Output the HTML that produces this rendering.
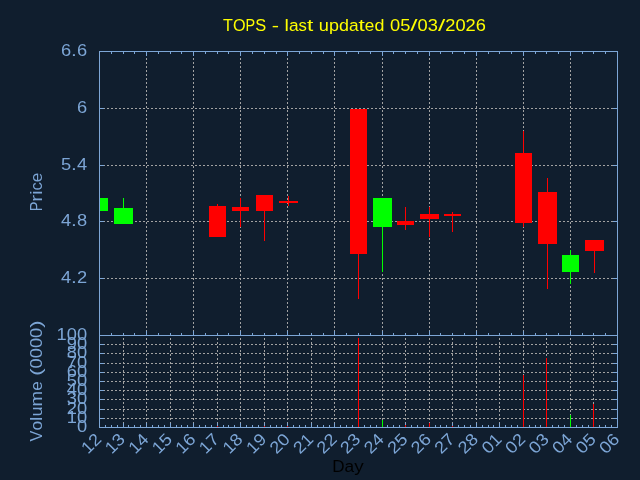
<!DOCTYPE html>
<html><head><meta charset="utf-8"><title>TOPS</title>
<style>
html,body{margin:0;padding:0;background:#101e2e;overflow:hidden}
svg{display:block}
text{font-family:"Liberation Sans",sans-serif}
.tx{opacity:0.999}
</style></head>
<body>
<svg width="640" height="480" viewBox="0 0 640 480">
<defs><clipPath id="cp"><rect x="100" y="52" width="517" height="283"/></clipPath></defs>
<rect x="0" y="0" width="640" height="480" fill="#101e2e"/>
<g shape-rendering="crispEdges">
<line x1="99" y1="108.5" x2="617" y2="108.5" stroke="#a2a2a2" stroke-width="1" stroke-dasharray="2 2"/>
<line x1="99" y1="165.5" x2="617" y2="165.5" stroke="#a2a2a2" stroke-width="1" stroke-dasharray="2 2"/>
<line x1="99" y1="221.5" x2="617" y2="221.5" stroke="#a2a2a2" stroke-width="1" stroke-dasharray="2 2"/>
<line x1="99" y1="278.5" x2="617" y2="278.5" stroke="#a2a2a2" stroke-width="1" stroke-dasharray="2 2"/>
<line x1="146.5" y1="336" x2="146.5" y2="51" stroke="#a2a2a2" stroke-width="1" stroke-dasharray="2 2"/>
<line x1="193.5" y1="336" x2="193.5" y2="51" stroke="#a2a2a2" stroke-width="1" stroke-dasharray="2 2"/>
<line x1="240.5" y1="336" x2="240.5" y2="51" stroke="#a2a2a2" stroke-width="1" stroke-dasharray="2 2"/>
<line x1="287.5" y1="336" x2="287.5" y2="51" stroke="#a2a2a2" stroke-width="1" stroke-dasharray="2 2"/>
<line x1="334.5" y1="336" x2="334.5" y2="51" stroke="#a2a2a2" stroke-width="1" stroke-dasharray="2 2"/>
<line x1="382.5" y1="336" x2="382.5" y2="51" stroke="#a2a2a2" stroke-width="1" stroke-dasharray="2 2"/>
<line x1="429.5" y1="336" x2="429.5" y2="51" stroke="#a2a2a2" stroke-width="1" stroke-dasharray="2 2"/>
<line x1="476.5" y1="336" x2="476.5" y2="51" stroke="#a2a2a2" stroke-width="1" stroke-dasharray="2 2"/>
<line x1="523.5" y1="336" x2="523.5" y2="51" stroke="#a2a2a2" stroke-width="1" stroke-dasharray="2 2"/>
<line x1="570.5" y1="336" x2="570.5" y2="51" stroke="#a2a2a2" stroke-width="1" stroke-dasharray="2 2"/>
<line x1="99" y1="344.5" x2="617" y2="344.5" stroke="#a2a2a2" stroke-width="1" stroke-dasharray="2 2"/>
<line x1="99" y1="353.5" x2="617" y2="353.5" stroke="#a2a2a2" stroke-width="1" stroke-dasharray="2 2"/>
<line x1="99" y1="363.5" x2="617" y2="363.5" stroke="#a2a2a2" stroke-width="1" stroke-dasharray="2 2"/>
<line x1="99" y1="372.5" x2="617" y2="372.5" stroke="#a2a2a2" stroke-width="1" stroke-dasharray="2 2"/>
<line x1="99" y1="381.5" x2="617" y2="381.5" stroke="#a2a2a2" stroke-width="1" stroke-dasharray="2 2"/>
<line x1="99" y1="390.5" x2="617" y2="390.5" stroke="#a2a2a2" stroke-width="1" stroke-dasharray="2 2"/>
<line x1="99" y1="399.5" x2="617" y2="399.5" stroke="#a2a2a2" stroke-width="1" stroke-dasharray="2 2"/>
<line x1="99" y1="409.5" x2="617" y2="409.5" stroke="#a2a2a2" stroke-width="1" stroke-dasharray="2 2"/>
<line x1="99" y1="418.5" x2="617" y2="418.5" stroke="#a2a2a2" stroke-width="1" stroke-dasharray="2 2"/>
<line x1="123.5" y1="428" x2="123.5" y2="335" stroke="#a2a2a2" stroke-width="1" stroke-dasharray="2 2"/>
<line x1="146.5" y1="428" x2="146.5" y2="335" stroke="#a2a2a2" stroke-width="1" stroke-dasharray="2 2"/>
<line x1="170.5" y1="428" x2="170.5" y2="335" stroke="#a2a2a2" stroke-width="1" stroke-dasharray="2 2"/>
<line x1="193.5" y1="428" x2="193.5" y2="335" stroke="#a2a2a2" stroke-width="1" stroke-dasharray="2 2"/>
<line x1="217.5" y1="428" x2="217.5" y2="335" stroke="#a2a2a2" stroke-width="1" stroke-dasharray="2 2"/>
<line x1="240.5" y1="428" x2="240.5" y2="335" stroke="#a2a2a2" stroke-width="1" stroke-dasharray="2 2"/>
<line x1="264.5" y1="428" x2="264.5" y2="335" stroke="#a2a2a2" stroke-width="1" stroke-dasharray="2 2"/>
<line x1="287.5" y1="428" x2="287.5" y2="335" stroke="#a2a2a2" stroke-width="1" stroke-dasharray="2 2"/>
<line x1="311.5" y1="428" x2="311.5" y2="335" stroke="#a2a2a2" stroke-width="1" stroke-dasharray="2 2"/>
<line x1="334.5" y1="428" x2="334.5" y2="335" stroke="#a2a2a2" stroke-width="1" stroke-dasharray="2 2"/>
<line x1="358.5" y1="428" x2="358.5" y2="335" stroke="#a2a2a2" stroke-width="1" stroke-dasharray="2 2"/>
<line x1="382.5" y1="428" x2="382.5" y2="335" stroke="#a2a2a2" stroke-width="1" stroke-dasharray="2 2"/>
<line x1="405.5" y1="428" x2="405.5" y2="335" stroke="#a2a2a2" stroke-width="1" stroke-dasharray="2 2"/>
<line x1="429.5" y1="428" x2="429.5" y2="335" stroke="#a2a2a2" stroke-width="1" stroke-dasharray="2 2"/>
<line x1="452.5" y1="428" x2="452.5" y2="335" stroke="#a2a2a2" stroke-width="1" stroke-dasharray="2 2"/>
<line x1="476.5" y1="428" x2="476.5" y2="335" stroke="#a2a2a2" stroke-width="1" stroke-dasharray="2 2"/>
<line x1="499.5" y1="428" x2="499.5" y2="335" stroke="#a2a2a2" stroke-width="1" stroke-dasharray="2 2"/>
<line x1="523.5" y1="428" x2="523.5" y2="335" stroke="#a2a2a2" stroke-width="1" stroke-dasharray="2 2"/>
<line x1="546.5" y1="428" x2="546.5" y2="335" stroke="#a2a2a2" stroke-width="1" stroke-dasharray="2 2"/>
<line x1="570.5" y1="428" x2="570.5" y2="335" stroke="#a2a2a2" stroke-width="1" stroke-dasharray="2 2"/>
<line x1="593.5" y1="428" x2="593.5" y2="335" stroke="#a2a2a2" stroke-width="1" stroke-dasharray="2 2"/>
<g clip-path="url(#cp)">
<rect x="99" y="198" width="1" height="13" fill="#00ff00"/>
<rect x="91" y="198" width="17" height="13" fill="#00ff00"/>
<rect x="123" y="198" width="1" height="26" fill="#00ff00"/>
<rect x="114" y="208" width="19" height="16" fill="#00ff00"/>
<rect x="217" y="204" width="1" height="33" fill="#ff0000"/>
<rect x="209" y="206" width="17" height="31" fill="#ff0000"/>
<rect x="240" y="198" width="1" height="29" fill="#ff0000"/>
<rect x="232" y="207" width="17" height="4" fill="#ff0000"/>
<rect x="264" y="195" width="1" height="46" fill="#ff0000"/>
<rect x="256" y="195" width="17" height="16" fill="#ff0000"/>
<rect x="288" y="196" width="1" height="10" fill="#ff0000"/>
<rect x="279" y="201" width="19" height="2" fill="#ff0000"/>
<rect x="358" y="109" width="1" height="190" fill="#ff0000"/>
<rect x="350" y="109" width="17" height="145" fill="#ff0000"/>
<rect x="382" y="198" width="1" height="74" fill="#00ff00"/>
<rect x="373" y="198" width="19" height="29" fill="#00ff00"/>
<rect x="405" y="207" width="1" height="23" fill="#ff0000"/>
<rect x="397" y="221" width="17" height="4" fill="#ff0000"/>
<rect x="429" y="207" width="1" height="30" fill="#ff0000"/>
<rect x="420" y="214" width="19" height="5" fill="#ff0000"/>
<rect x="452" y="212" width="1" height="20" fill="#ff0000"/>
<rect x="444" y="214" width="17" height="2" fill="#ff0000"/>
<rect x="523" y="131" width="1" height="96" fill="#ff0000"/>
<rect x="515" y="153" width="17" height="70" fill="#ff0000"/>
<rect x="547" y="178" width="1" height="111" fill="#ff0000"/>
<rect x="538" y="192" width="19" height="52" fill="#ff0000"/>
<rect x="570" y="250" width="1" height="34" fill="#00ff00"/>
<rect x="562" y="255" width="17" height="17" fill="#00ff00"/>
<rect x="594" y="240" width="1" height="33" fill="#ff0000"/>
<rect x="585" y="240" width="19" height="11" fill="#ff0000"/>
</g>
<rect x="111" y="52" width="1" height="2" fill="#7da6d6"/>
<rect x="111" y="333" width="1" height="2" fill="#7da6d6"/>
<rect x="123" y="52" width="1" height="2" fill="#7da6d6"/>
<rect x="123" y="333" width="1" height="2" fill="#7da6d6"/>
<rect x="134" y="52" width="1" height="2" fill="#7da6d6"/>
<rect x="134" y="333" width="1" height="2" fill="#7da6d6"/>
<rect x="146" y="52" width="1" height="4" fill="#7da6d6"/>
<rect x="146" y="331" width="1" height="4" fill="#7da6d6"/>
<rect x="158" y="52" width="1" height="2" fill="#7da6d6"/>
<rect x="158" y="333" width="1" height="2" fill="#7da6d6"/>
<rect x="170" y="52" width="1" height="2" fill="#7da6d6"/>
<rect x="170" y="333" width="1" height="2" fill="#7da6d6"/>
<rect x="181" y="52" width="1" height="2" fill="#7da6d6"/>
<rect x="181" y="333" width="1" height="2" fill="#7da6d6"/>
<rect x="193" y="52" width="1" height="4" fill="#7da6d6"/>
<rect x="193" y="331" width="1" height="4" fill="#7da6d6"/>
<rect x="205" y="52" width="1" height="2" fill="#7da6d6"/>
<rect x="205" y="333" width="1" height="2" fill="#7da6d6"/>
<rect x="217" y="52" width="1" height="2" fill="#7da6d6"/>
<rect x="217" y="333" width="1" height="2" fill="#7da6d6"/>
<rect x="228" y="52" width="1" height="2" fill="#7da6d6"/>
<rect x="228" y="333" width="1" height="2" fill="#7da6d6"/>
<rect x="240" y="52" width="1" height="4" fill="#7da6d6"/>
<rect x="240" y="331" width="1" height="4" fill="#7da6d6"/>
<rect x="252" y="52" width="1" height="2" fill="#7da6d6"/>
<rect x="252" y="333" width="1" height="2" fill="#7da6d6"/>
<rect x="264" y="52" width="1" height="2" fill="#7da6d6"/>
<rect x="264" y="333" width="1" height="2" fill="#7da6d6"/>
<rect x="276" y="52" width="1" height="2" fill="#7da6d6"/>
<rect x="276" y="333" width="1" height="2" fill="#7da6d6"/>
<rect x="287" y="52" width="1" height="4" fill="#7da6d6"/>
<rect x="287" y="331" width="1" height="4" fill="#7da6d6"/>
<rect x="299" y="52" width="1" height="2" fill="#7da6d6"/>
<rect x="299" y="333" width="1" height="2" fill="#7da6d6"/>
<rect x="311" y="52" width="1" height="2" fill="#7da6d6"/>
<rect x="311" y="333" width="1" height="2" fill="#7da6d6"/>
<rect x="323" y="52" width="1" height="2" fill="#7da6d6"/>
<rect x="323" y="333" width="1" height="2" fill="#7da6d6"/>
<rect x="334" y="52" width="1" height="4" fill="#7da6d6"/>
<rect x="334" y="331" width="1" height="4" fill="#7da6d6"/>
<rect x="346" y="52" width="1" height="2" fill="#7da6d6"/>
<rect x="346" y="333" width="1" height="2" fill="#7da6d6"/>
<rect x="358" y="52" width="1" height="2" fill="#7da6d6"/>
<rect x="358" y="333" width="1" height="2" fill="#7da6d6"/>
<rect x="370" y="52" width="1" height="2" fill="#7da6d6"/>
<rect x="370" y="333" width="1" height="2" fill="#7da6d6"/>
<rect x="382" y="52" width="1" height="4" fill="#7da6d6"/>
<rect x="382" y="331" width="1" height="4" fill="#7da6d6"/>
<rect x="393" y="52" width="1" height="2" fill="#7da6d6"/>
<rect x="393" y="333" width="1" height="2" fill="#7da6d6"/>
<rect x="405" y="52" width="1" height="2" fill="#7da6d6"/>
<rect x="405" y="333" width="1" height="2" fill="#7da6d6"/>
<rect x="417" y="52" width="1" height="2" fill="#7da6d6"/>
<rect x="417" y="333" width="1" height="2" fill="#7da6d6"/>
<rect x="429" y="52" width="1" height="4" fill="#7da6d6"/>
<rect x="429" y="331" width="1" height="4" fill="#7da6d6"/>
<rect x="440" y="52" width="1" height="2" fill="#7da6d6"/>
<rect x="440" y="333" width="1" height="2" fill="#7da6d6"/>
<rect x="452" y="52" width="1" height="2" fill="#7da6d6"/>
<rect x="452" y="333" width="1" height="2" fill="#7da6d6"/>
<rect x="464" y="52" width="1" height="2" fill="#7da6d6"/>
<rect x="464" y="333" width="1" height="2" fill="#7da6d6"/>
<rect x="476" y="52" width="1" height="4" fill="#7da6d6"/>
<rect x="476" y="331" width="1" height="4" fill="#7da6d6"/>
<rect x="488" y="52" width="1" height="2" fill="#7da6d6"/>
<rect x="488" y="333" width="1" height="2" fill="#7da6d6"/>
<rect x="499" y="52" width="1" height="2" fill="#7da6d6"/>
<rect x="499" y="333" width="1" height="2" fill="#7da6d6"/>
<rect x="511" y="52" width="1" height="2" fill="#7da6d6"/>
<rect x="511" y="333" width="1" height="2" fill="#7da6d6"/>
<rect x="523" y="52" width="1" height="4" fill="#7da6d6"/>
<rect x="523" y="331" width="1" height="4" fill="#7da6d6"/>
<rect x="535" y="52" width="1" height="2" fill="#7da6d6"/>
<rect x="535" y="333" width="1" height="2" fill="#7da6d6"/>
<rect x="546" y="52" width="1" height="2" fill="#7da6d6"/>
<rect x="546" y="333" width="1" height="2" fill="#7da6d6"/>
<rect x="558" y="52" width="1" height="2" fill="#7da6d6"/>
<rect x="558" y="333" width="1" height="2" fill="#7da6d6"/>
<rect x="570" y="52" width="1" height="4" fill="#7da6d6"/>
<rect x="570" y="331" width="1" height="4" fill="#7da6d6"/>
<rect x="582" y="52" width="1" height="2" fill="#7da6d6"/>
<rect x="582" y="333" width="1" height="2" fill="#7da6d6"/>
<rect x="593" y="52" width="1" height="2" fill="#7da6d6"/>
<rect x="593" y="333" width="1" height="2" fill="#7da6d6"/>
<rect x="605" y="52" width="1" height="2" fill="#7da6d6"/>
<rect x="605" y="333" width="1" height="2" fill="#7da6d6"/>
<rect x="105" y="425" width="1" height="2" fill="#7da6d6"/>
<rect x="111" y="425" width="1" height="2" fill="#7da6d6"/>
<rect x="117" y="425" width="1" height="2" fill="#7da6d6"/>
<rect x="123" y="423" width="1" height="4" fill="#7da6d6"/>
<rect x="128" y="425" width="1" height="2" fill="#7da6d6"/>
<rect x="134" y="425" width="1" height="2" fill="#7da6d6"/>
<rect x="140" y="425" width="1" height="2" fill="#7da6d6"/>
<rect x="146" y="423" width="1" height="4" fill="#7da6d6"/>
<rect x="152" y="425" width="1" height="2" fill="#7da6d6"/>
<rect x="158" y="425" width="1" height="2" fill="#7da6d6"/>
<rect x="164" y="425" width="1" height="2" fill="#7da6d6"/>
<rect x="170" y="423" width="1" height="4" fill="#7da6d6"/>
<rect x="176" y="425" width="1" height="2" fill="#7da6d6"/>
<rect x="181" y="425" width="1" height="2" fill="#7da6d6"/>
<rect x="187" y="425" width="1" height="2" fill="#7da6d6"/>
<rect x="193" y="423" width="1" height="4" fill="#7da6d6"/>
<rect x="199" y="425" width="1" height="2" fill="#7da6d6"/>
<rect x="205" y="425" width="1" height="2" fill="#7da6d6"/>
<rect x="211" y="425" width="1" height="2" fill="#7da6d6"/>
<rect x="217" y="423" width="1" height="4" fill="#7da6d6"/>
<rect x="223" y="425" width="1" height="2" fill="#7da6d6"/>
<rect x="228" y="425" width="1" height="2" fill="#7da6d6"/>
<rect x="234" y="425" width="1" height="2" fill="#7da6d6"/>
<rect x="240" y="423" width="1" height="4" fill="#7da6d6"/>
<rect x="246" y="425" width="1" height="2" fill="#7da6d6"/>
<rect x="252" y="425" width="1" height="2" fill="#7da6d6"/>
<rect x="258" y="425" width="1" height="2" fill="#7da6d6"/>
<rect x="264" y="423" width="1" height="4" fill="#7da6d6"/>
<rect x="270" y="425" width="1" height="2" fill="#7da6d6"/>
<rect x="276" y="425" width="1" height="2" fill="#7da6d6"/>
<rect x="281" y="425" width="1" height="2" fill="#7da6d6"/>
<rect x="287" y="423" width="1" height="4" fill="#7da6d6"/>
<rect x="293" y="425" width="1" height="2" fill="#7da6d6"/>
<rect x="299" y="425" width="1" height="2" fill="#7da6d6"/>
<rect x="305" y="425" width="1" height="2" fill="#7da6d6"/>
<rect x="311" y="423" width="1" height="4" fill="#7da6d6"/>
<rect x="317" y="425" width="1" height="2" fill="#7da6d6"/>
<rect x="323" y="425" width="1" height="2" fill="#7da6d6"/>
<rect x="329" y="425" width="1" height="2" fill="#7da6d6"/>
<rect x="334" y="423" width="1" height="4" fill="#7da6d6"/>
<rect x="340" y="425" width="1" height="2" fill="#7da6d6"/>
<rect x="346" y="425" width="1" height="2" fill="#7da6d6"/>
<rect x="352" y="425" width="1" height="2" fill="#7da6d6"/>
<rect x="358" y="423" width="1" height="4" fill="#7da6d6"/>
<rect x="364" y="425" width="1" height="2" fill="#7da6d6"/>
<rect x="370" y="425" width="1" height="2" fill="#7da6d6"/>
<rect x="376" y="425" width="1" height="2" fill="#7da6d6"/>
<rect x="382" y="423" width="1" height="4" fill="#7da6d6"/>
<rect x="387" y="425" width="1" height="2" fill="#7da6d6"/>
<rect x="393" y="425" width="1" height="2" fill="#7da6d6"/>
<rect x="399" y="425" width="1" height="2" fill="#7da6d6"/>
<rect x="405" y="423" width="1" height="4" fill="#7da6d6"/>
<rect x="411" y="425" width="1" height="2" fill="#7da6d6"/>
<rect x="417" y="425" width="1" height="2" fill="#7da6d6"/>
<rect x="423" y="425" width="1" height="2" fill="#7da6d6"/>
<rect x="429" y="423" width="1" height="4" fill="#7da6d6"/>
<rect x="435" y="425" width="1" height="2" fill="#7da6d6"/>
<rect x="440" y="425" width="1" height="2" fill="#7da6d6"/>
<rect x="446" y="425" width="1" height="2" fill="#7da6d6"/>
<rect x="452" y="423" width="1" height="4" fill="#7da6d6"/>
<rect x="458" y="425" width="1" height="2" fill="#7da6d6"/>
<rect x="464" y="425" width="1" height="2" fill="#7da6d6"/>
<rect x="470" y="425" width="1" height="2" fill="#7da6d6"/>
<rect x="476" y="423" width="1" height="4" fill="#7da6d6"/>
<rect x="482" y="425" width="1" height="2" fill="#7da6d6"/>
<rect x="488" y="425" width="1" height="2" fill="#7da6d6"/>
<rect x="493" y="425" width="1" height="2" fill="#7da6d6"/>
<rect x="499" y="423" width="1" height="4" fill="#7da6d6"/>
<rect x="505" y="425" width="1" height="2" fill="#7da6d6"/>
<rect x="511" y="425" width="1" height="2" fill="#7da6d6"/>
<rect x="517" y="425" width="1" height="2" fill="#7da6d6"/>
<rect x="523" y="423" width="1" height="4" fill="#7da6d6"/>
<rect x="529" y="425" width="1" height="2" fill="#7da6d6"/>
<rect x="535" y="425" width="1" height="2" fill="#7da6d6"/>
<rect x="540" y="425" width="1" height="2" fill="#7da6d6"/>
<rect x="546" y="423" width="1" height="4" fill="#7da6d6"/>
<rect x="552" y="425" width="1" height="2" fill="#7da6d6"/>
<rect x="558" y="425" width="1" height="2" fill="#7da6d6"/>
<rect x="564" y="425" width="1" height="2" fill="#7da6d6"/>
<rect x="570" y="423" width="1" height="4" fill="#7da6d6"/>
<rect x="576" y="425" width="1" height="2" fill="#7da6d6"/>
<rect x="582" y="425" width="1" height="2" fill="#7da6d6"/>
<rect x="588" y="425" width="1" height="2" fill="#7da6d6"/>
<rect x="593" y="423" width="1" height="4" fill="#7da6d6"/>
<rect x="599" y="425" width="1" height="2" fill="#7da6d6"/>
<rect x="605" y="425" width="1" height="2" fill="#7da6d6"/>
<rect x="611" y="425" width="1" height="2" fill="#7da6d6"/>
<rect x="100" y="108" width="4" height="1" fill="#7da6d6"/>
<rect x="613" y="108" width="4" height="1" fill="#7da6d6"/>
<rect x="100" y="165" width="4" height="1" fill="#7da6d6"/>
<rect x="613" y="165" width="4" height="1" fill="#7da6d6"/>
<rect x="100" y="221" width="4" height="1" fill="#7da6d6"/>
<rect x="613" y="221" width="4" height="1" fill="#7da6d6"/>
<rect x="100" y="278" width="4" height="1" fill="#7da6d6"/>
<rect x="613" y="278" width="4" height="1" fill="#7da6d6"/>
<rect x="100" y="344" width="4" height="1" fill="#7da6d6"/>
<rect x="613" y="344" width="4" height="1" fill="#7da6d6"/>
<rect x="100" y="353" width="4" height="1" fill="#7da6d6"/>
<rect x="613" y="353" width="4" height="1" fill="#7da6d6"/>
<rect x="100" y="363" width="4" height="1" fill="#7da6d6"/>
<rect x="613" y="363" width="4" height="1" fill="#7da6d6"/>
<rect x="100" y="372" width="4" height="1" fill="#7da6d6"/>
<rect x="613" y="372" width="4" height="1" fill="#7da6d6"/>
<rect x="100" y="381" width="4" height="1" fill="#7da6d6"/>
<rect x="613" y="381" width="4" height="1" fill="#7da6d6"/>
<rect x="100" y="390" width="4" height="1" fill="#7da6d6"/>
<rect x="613" y="390" width="4" height="1" fill="#7da6d6"/>
<rect x="100" y="399" width="4" height="1" fill="#7da6d6"/>
<rect x="613" y="399" width="4" height="1" fill="#7da6d6"/>
<rect x="100" y="409" width="4" height="1" fill="#7da6d6"/>
<rect x="613" y="409" width="4" height="1" fill="#7da6d6"/>
<rect x="100" y="418" width="4" height="1" fill="#7da6d6"/>
<rect x="613" y="418" width="4" height="1" fill="#7da6d6"/>
<rect x="217" y="426" width="1" height="1" fill="#ff0000"/>
<rect x="264" y="426" width="1" height="1" fill="#ff0000"/>
<rect x="287" y="426" width="1" height="1" fill="#ff0000"/>
<rect x="358" y="338" width="1" height="89" fill="#ff0000"/>
<rect x="382" y="420" width="1" height="7" fill="#00ff00"/>
<rect x="405" y="425" width="1" height="2" fill="#ff0000"/>
<rect x="429" y="423" width="1" height="4" fill="#ff0000"/>
<rect x="452" y="426" width="1" height="1" fill="#ff0000"/>
<rect x="523" y="375" width="1" height="52" fill="#ff0000"/>
<rect x="546" y="358" width="1" height="69" fill="#ff0000"/>
<rect x="570" y="415" width="1" height="12" fill="#00ff00"/>
<rect x="593" y="404" width="1" height="23" fill="#ff0000"/>
<rect x="99" y="51" width="519" height="1" fill="#7da6d6"/>
<rect x="99" y="335" width="519" height="1" fill="#7da6d6"/>
<rect x="99" y="427" width="519" height="1" fill="#7da6d6"/>
<rect x="99" y="51" width="1" height="377" fill="#7da6d6"/>
<rect x="617" y="51" width="1" height="377" fill="#7da6d6"/>
</g>
<g class="tx">
<g fill="#ffff00" font-size="16.9"><text x="223.05" y="31.00" textLength="9.86" lengthAdjust="spacingAndGlyphs">T</text><text x="232.91" y="31.00" textLength="12.59" lengthAdjust="spacingAndGlyphs">O</text><text x="245.50" y="31.00" textLength="9.65" lengthAdjust="spacingAndGlyphs">P</text><text x="255.15" y="31.00" textLength="10.94" lengthAdjust="spacingAndGlyphs">S</text><text x="271.72" y="31.00" textLength="7.26" lengthAdjust="spacingAndGlyphs">-</text><text x="284.62" y="31.00" textLength="4.38" lengthAdjust="spacingAndGlyphs">l</text><text x="289.00" y="31.00" textLength="9.62" lengthAdjust="spacingAndGlyphs">a</text><text x="298.62" y="31.00" textLength="8.34" lengthAdjust="spacingAndGlyphs">s</text><text x="306.96" y="31.00" textLength="6.30" lengthAdjust="spacingAndGlyphs">t</text><text x="318.89" y="31.00" textLength="10.13" lengthAdjust="spacingAndGlyphs">u</text><text x="329.02" y="31.00" textLength="9.97" lengthAdjust="spacingAndGlyphs">p</text><text x="338.99" y="31.00" textLength="9.97" lengthAdjust="spacingAndGlyphs">d</text><text x="348.96" y="31.00" textLength="9.62" lengthAdjust="spacingAndGlyphs">a</text><text x="358.57" y="31.00" textLength="6.30" lengthAdjust="spacingAndGlyphs">t</text><text x="364.88" y="31.00" textLength="9.54" lengthAdjust="spacingAndGlyphs">e</text><text x="374.41" y="31.00" textLength="9.97" lengthAdjust="spacingAndGlyphs">d</text><text x="390.01" y="31.00" textLength="10.18" lengthAdjust="spacingAndGlyphs">0</text><text x="400.19" y="31.00" textLength="10.18" lengthAdjust="spacingAndGlyphs">5</text><text x="410.36" y="31.00" textLength="7.26" lengthAdjust="spacingAndGlyphs">/</text><text x="417.63" y="31.00" textLength="10.18" lengthAdjust="spacingAndGlyphs">0</text><text x="427.80" y="31.00" textLength="10.18" lengthAdjust="spacingAndGlyphs">3</text><text x="437.98" y="31.00" textLength="7.26" lengthAdjust="spacingAndGlyphs">/</text><text x="445.24" y="31.00" textLength="10.18" lengthAdjust="spacingAndGlyphs">2</text><text x="455.42" y="31.00" textLength="10.18" lengthAdjust="spacingAndGlyphs">0</text><text x="465.60" y="31.00" textLength="10.18" lengthAdjust="spacingAndGlyphs">2</text><text x="475.77" y="31.00" textLength="10.18" lengthAdjust="spacingAndGlyphs">6</text></g>
<g fill="#7da6d6" font-size="16.9"><text x="60.92" y="55.60" textLength="10.18" lengthAdjust="spacingAndGlyphs">6</text><text x="71.10" y="55.60" textLength="5.82" lengthAdjust="spacingAndGlyphs">.</text><text x="76.92" y="55.60" textLength="10.18" lengthAdjust="spacingAndGlyphs">6</text></g>
<g fill="#7da6d6" font-size="16.9"><text x="76.92" y="112.60" textLength="10.18" lengthAdjust="spacingAndGlyphs">6</text></g>
<g fill="#7da6d6" font-size="16.9"><text x="60.92" y="169.60" textLength="10.18" lengthAdjust="spacingAndGlyphs">5</text><text x="71.10" y="169.60" textLength="5.82" lengthAdjust="spacingAndGlyphs">.</text><text x="76.92" y="169.60" textLength="10.18" lengthAdjust="spacingAndGlyphs">4</text></g>
<g fill="#7da6d6" font-size="16.9"><text x="60.92" y="225.60" textLength="10.18" lengthAdjust="spacingAndGlyphs">4</text><text x="71.10" y="225.60" textLength="5.82" lengthAdjust="spacingAndGlyphs">.</text><text x="76.92" y="225.60" textLength="10.18" lengthAdjust="spacingAndGlyphs">8</text></g>
<g fill="#7da6d6" font-size="16.9"><text x="60.92" y="282.60" textLength="10.18" lengthAdjust="spacingAndGlyphs">4</text><text x="71.10" y="282.60" textLength="5.82" lengthAdjust="spacingAndGlyphs">.</text><text x="76.92" y="282.60" textLength="10.18" lengthAdjust="spacingAndGlyphs">2</text></g>
<g fill="#7da6d6" font-size="16.9"><text x="56.57" y="339.60" textLength="10.18" lengthAdjust="spacingAndGlyphs">1</text><text x="66.75" y="339.60" textLength="10.18" lengthAdjust="spacingAndGlyphs">0</text><text x="76.92" y="339.60" textLength="10.18" lengthAdjust="spacingAndGlyphs">0</text></g>
<g fill="#7da6d6" font-size="16.9"><text x="66.75" y="348.60" textLength="10.18" lengthAdjust="spacingAndGlyphs">9</text><text x="76.92" y="348.60" textLength="10.18" lengthAdjust="spacingAndGlyphs">0</text></g>
<g fill="#7da6d6" font-size="16.9"><text x="66.75" y="357.60" textLength="10.18" lengthAdjust="spacingAndGlyphs">8</text><text x="76.92" y="357.60" textLength="10.18" lengthAdjust="spacingAndGlyphs">0</text></g>
<g fill="#7da6d6" font-size="16.9"><text x="66.75" y="367.60" textLength="10.18" lengthAdjust="spacingAndGlyphs">7</text><text x="76.92" y="367.60" textLength="10.18" lengthAdjust="spacingAndGlyphs">0</text></g>
<g fill="#7da6d6" font-size="16.9"><text x="66.75" y="376.60" textLength="10.18" lengthAdjust="spacingAndGlyphs">6</text><text x="76.92" y="376.60" textLength="10.18" lengthAdjust="spacingAndGlyphs">0</text></g>
<g fill="#7da6d6" font-size="16.9"><text x="66.75" y="385.60" textLength="10.18" lengthAdjust="spacingAndGlyphs">5</text><text x="76.92" y="385.60" textLength="10.18" lengthAdjust="spacingAndGlyphs">0</text></g>
<g fill="#7da6d6" font-size="16.9"><text x="66.75" y="394.60" textLength="10.18" lengthAdjust="spacingAndGlyphs">4</text><text x="76.92" y="394.60" textLength="10.18" lengthAdjust="spacingAndGlyphs">0</text></g>
<g fill="#7da6d6" font-size="16.9"><text x="66.75" y="403.60" textLength="10.18" lengthAdjust="spacingAndGlyphs">3</text><text x="76.92" y="403.60" textLength="10.18" lengthAdjust="spacingAndGlyphs">0</text></g>
<g fill="#7da6d6" font-size="16.9"><text x="66.75" y="413.60" textLength="10.18" lengthAdjust="spacingAndGlyphs">2</text><text x="76.92" y="413.60" textLength="10.18" lengthAdjust="spacingAndGlyphs">0</text></g>
<g fill="#7da6d6" font-size="16.9"><text x="66.75" y="422.60" textLength="10.18" lengthAdjust="spacingAndGlyphs">1</text><text x="76.92" y="422.60" textLength="10.18" lengthAdjust="spacingAndGlyphs">0</text></g>
<g fill="#7da6d6" font-size="16.9"><text x="76.92" y="431.60" textLength="10.18" lengthAdjust="spacingAndGlyphs">0</text></g>
<g transform="translate(102.50,440.3) rotate(-45)">
<g fill="#7da6d6" font-size="16.9"><text x="-20.35" y="0.00" textLength="10.18" lengthAdjust="spacingAndGlyphs">1</text><text x="-10.18" y="0.00" textLength="10.18" lengthAdjust="spacingAndGlyphs">2</text></g>
</g>
<g transform="translate(126.05,440.3) rotate(-45)">
<g fill="#7da6d6" font-size="16.9"><text x="-20.35" y="0.00" textLength="10.18" lengthAdjust="spacingAndGlyphs">1</text><text x="-10.18" y="0.00" textLength="10.18" lengthAdjust="spacingAndGlyphs">3</text></g>
</g>
<g transform="translate(149.59,440.3) rotate(-45)">
<g fill="#7da6d6" font-size="16.9"><text x="-20.35" y="0.00" textLength="10.18" lengthAdjust="spacingAndGlyphs">1</text><text x="-10.18" y="0.00" textLength="10.18" lengthAdjust="spacingAndGlyphs">4</text></g>
</g>
<g transform="translate(173.14,440.3) rotate(-45)">
<g fill="#7da6d6" font-size="16.9"><text x="-20.35" y="0.00" textLength="10.18" lengthAdjust="spacingAndGlyphs">1</text><text x="-10.18" y="0.00" textLength="10.18" lengthAdjust="spacingAndGlyphs">5</text></g>
</g>
<g transform="translate(196.68,440.3) rotate(-45)">
<g fill="#7da6d6" font-size="16.9"><text x="-20.35" y="0.00" textLength="10.18" lengthAdjust="spacingAndGlyphs">1</text><text x="-10.18" y="0.00" textLength="10.18" lengthAdjust="spacingAndGlyphs">6</text></g>
</g>
<g transform="translate(220.23,440.3) rotate(-45)">
<g fill="#7da6d6" font-size="16.9"><text x="-20.35" y="0.00" textLength="10.18" lengthAdjust="spacingAndGlyphs">1</text><text x="-10.18" y="0.00" textLength="10.18" lengthAdjust="spacingAndGlyphs">7</text></g>
</g>
<g transform="translate(243.77,440.3) rotate(-45)">
<g fill="#7da6d6" font-size="16.9"><text x="-20.35" y="0.00" textLength="10.18" lengthAdjust="spacingAndGlyphs">1</text><text x="-10.18" y="0.00" textLength="10.18" lengthAdjust="spacingAndGlyphs">8</text></g>
</g>
<g transform="translate(267.32,440.3) rotate(-45)">
<g fill="#7da6d6" font-size="16.9"><text x="-20.35" y="0.00" textLength="10.18" lengthAdjust="spacingAndGlyphs">1</text><text x="-10.18" y="0.00" textLength="10.18" lengthAdjust="spacingAndGlyphs">9</text></g>
</g>
<g transform="translate(290.86,440.3) rotate(-45)">
<g fill="#7da6d6" font-size="16.9"><text x="-20.35" y="0.00" textLength="10.18" lengthAdjust="spacingAndGlyphs">2</text><text x="-10.18" y="0.00" textLength="10.18" lengthAdjust="spacingAndGlyphs">0</text></g>
</g>
<g transform="translate(314.41,440.3) rotate(-45)">
<g fill="#7da6d6" font-size="16.9"><text x="-20.35" y="0.00" textLength="10.18" lengthAdjust="spacingAndGlyphs">2</text><text x="-10.18" y="0.00" textLength="10.18" lengthAdjust="spacingAndGlyphs">1</text></g>
</g>
<g transform="translate(337.95,440.3) rotate(-45)">
<g fill="#7da6d6" font-size="16.9"><text x="-20.35" y="0.00" textLength="10.18" lengthAdjust="spacingAndGlyphs">2</text><text x="-10.18" y="0.00" textLength="10.18" lengthAdjust="spacingAndGlyphs">2</text></g>
</g>
<g transform="translate(361.50,440.3) rotate(-45)">
<g fill="#7da6d6" font-size="16.9"><text x="-20.35" y="0.00" textLength="10.18" lengthAdjust="spacingAndGlyphs">2</text><text x="-10.18" y="0.00" textLength="10.18" lengthAdjust="spacingAndGlyphs">3</text></g>
</g>
<g transform="translate(385.05,440.3) rotate(-45)">
<g fill="#7da6d6" font-size="16.9"><text x="-20.35" y="0.00" textLength="10.18" lengthAdjust="spacingAndGlyphs">2</text><text x="-10.18" y="0.00" textLength="10.18" lengthAdjust="spacingAndGlyphs">4</text></g>
</g>
<g transform="translate(408.59,440.3) rotate(-45)">
<g fill="#7da6d6" font-size="16.9"><text x="-20.35" y="0.00" textLength="10.18" lengthAdjust="spacingAndGlyphs">2</text><text x="-10.18" y="0.00" textLength="10.18" lengthAdjust="spacingAndGlyphs">5</text></g>
</g>
<g transform="translate(432.14,440.3) rotate(-45)">
<g fill="#7da6d6" font-size="16.9"><text x="-20.35" y="0.00" textLength="10.18" lengthAdjust="spacingAndGlyphs">2</text><text x="-10.18" y="0.00" textLength="10.18" lengthAdjust="spacingAndGlyphs">6</text></g>
</g>
<g transform="translate(455.68,440.3) rotate(-45)">
<g fill="#7da6d6" font-size="16.9"><text x="-20.35" y="0.00" textLength="10.18" lengthAdjust="spacingAndGlyphs">2</text><text x="-10.18" y="0.00" textLength="10.18" lengthAdjust="spacingAndGlyphs">7</text></g>
</g>
<g transform="translate(479.23,440.3) rotate(-45)">
<g fill="#7da6d6" font-size="16.9"><text x="-20.35" y="0.00" textLength="10.18" lengthAdjust="spacingAndGlyphs">2</text><text x="-10.18" y="0.00" textLength="10.18" lengthAdjust="spacingAndGlyphs">8</text></g>
</g>
<g transform="translate(502.77,440.3) rotate(-45)">
<g fill="#7da6d6" font-size="16.9"><text x="-20.35" y="0.00" textLength="10.18" lengthAdjust="spacingAndGlyphs">0</text><text x="-10.18" y="0.00" textLength="10.18" lengthAdjust="spacingAndGlyphs">1</text></g>
</g>
<g transform="translate(526.32,440.3) rotate(-45)">
<g fill="#7da6d6" font-size="16.9"><text x="-20.35" y="0.00" textLength="10.18" lengthAdjust="spacingAndGlyphs">0</text><text x="-10.18" y="0.00" textLength="10.18" lengthAdjust="spacingAndGlyphs">2</text></g>
</g>
<g transform="translate(549.86,440.3) rotate(-45)">
<g fill="#7da6d6" font-size="16.9"><text x="-20.35" y="0.00" textLength="10.18" lengthAdjust="spacingAndGlyphs">0</text><text x="-10.18" y="0.00" textLength="10.18" lengthAdjust="spacingAndGlyphs">3</text></g>
</g>
<g transform="translate(573.41,440.3) rotate(-45)">
<g fill="#7da6d6" font-size="16.9"><text x="-20.35" y="0.00" textLength="10.18" lengthAdjust="spacingAndGlyphs">0</text><text x="-10.18" y="0.00" textLength="10.18" lengthAdjust="spacingAndGlyphs">4</text></g>
</g>
<g transform="translate(596.95,440.3) rotate(-45)">
<g fill="#7da6d6" font-size="16.9"><text x="-20.35" y="0.00" textLength="10.18" lengthAdjust="spacingAndGlyphs">0</text><text x="-10.18" y="0.00" textLength="10.18" lengthAdjust="spacingAndGlyphs">5</text></g>
</g>
<g transform="translate(620.50,440.3) rotate(-45)">
<g fill="#7da6d6" font-size="16.9"><text x="-20.35" y="0.00" textLength="10.18" lengthAdjust="spacingAndGlyphs">0</text><text x="-10.18" y="0.00" textLength="10.18" lengthAdjust="spacingAndGlyphs">6</text></g>
</g>
<g fill="#000000" font-size="16.9"><text x="332.29" y="471.50" textLength="12.34" lengthAdjust="spacingAndGlyphs">D</text><text x="344.62" y="471.50" textLength="9.62" lengthAdjust="spacingAndGlyphs">a</text><text x="354.24" y="471.50" textLength="9.47" lengthAdjust="spacingAndGlyphs">y</text></g>
<g transform="translate(42.3,192.0) rotate(-90)">
<g fill="#7da6d6" font-size="16.9"><text x="-19.37" y="0.00" textLength="9.65" lengthAdjust="spacingAndGlyphs">P</text><text x="-9.72" y="0.00" textLength="6.83" lengthAdjust="spacingAndGlyphs">r</text><text x="-2.89" y="0.00" textLength="4.38" lengthAdjust="spacingAndGlyphs">i</text><text x="1.50" y="0.00" textLength="8.34" lengthAdjust="spacingAndGlyphs">c</text><text x="9.83" y="0.00" textLength="9.54" lengthAdjust="spacingAndGlyphs">e</text></g>
</g>
<g transform="translate(42.3,381) rotate(-90)">
<g fill="#7da6d6" font-size="16.9"><text x="-60.57" y="0.00" textLength="10.94" lengthAdjust="spacingAndGlyphs">V</text><text x="-49.62" y="0.00" textLength="9.71" lengthAdjust="spacingAndGlyphs">o</text><text x="-39.91" y="0.00" textLength="4.38" lengthAdjust="spacingAndGlyphs">l</text><text x="-35.53" y="0.00" textLength="10.13" lengthAdjust="spacingAndGlyphs">u</text><text x="-25.40" y="0.00" textLength="15.57" lengthAdjust="spacingAndGlyphs">m</text><text x="-9.83" y="0.00" textLength="9.54" lengthAdjust="spacingAndGlyphs">e</text><text x="5.34" y="0.00" textLength="7.26" lengthAdjust="spacingAndGlyphs">(</text><text x="12.60" y="0.00" textLength="10.18" lengthAdjust="spacingAndGlyphs">0</text><text x="22.78" y="0.00" textLength="10.18" lengthAdjust="spacingAndGlyphs">0</text><text x="32.95" y="0.00" textLength="10.18" lengthAdjust="spacingAndGlyphs">0</text><text x="43.13" y="0.00" textLength="10.18" lengthAdjust="spacingAndGlyphs">0</text><text x="53.30" y="0.00" textLength="7.26" lengthAdjust="spacingAndGlyphs">)</text></g>
</g>
</g>
</svg>
</body></html>
